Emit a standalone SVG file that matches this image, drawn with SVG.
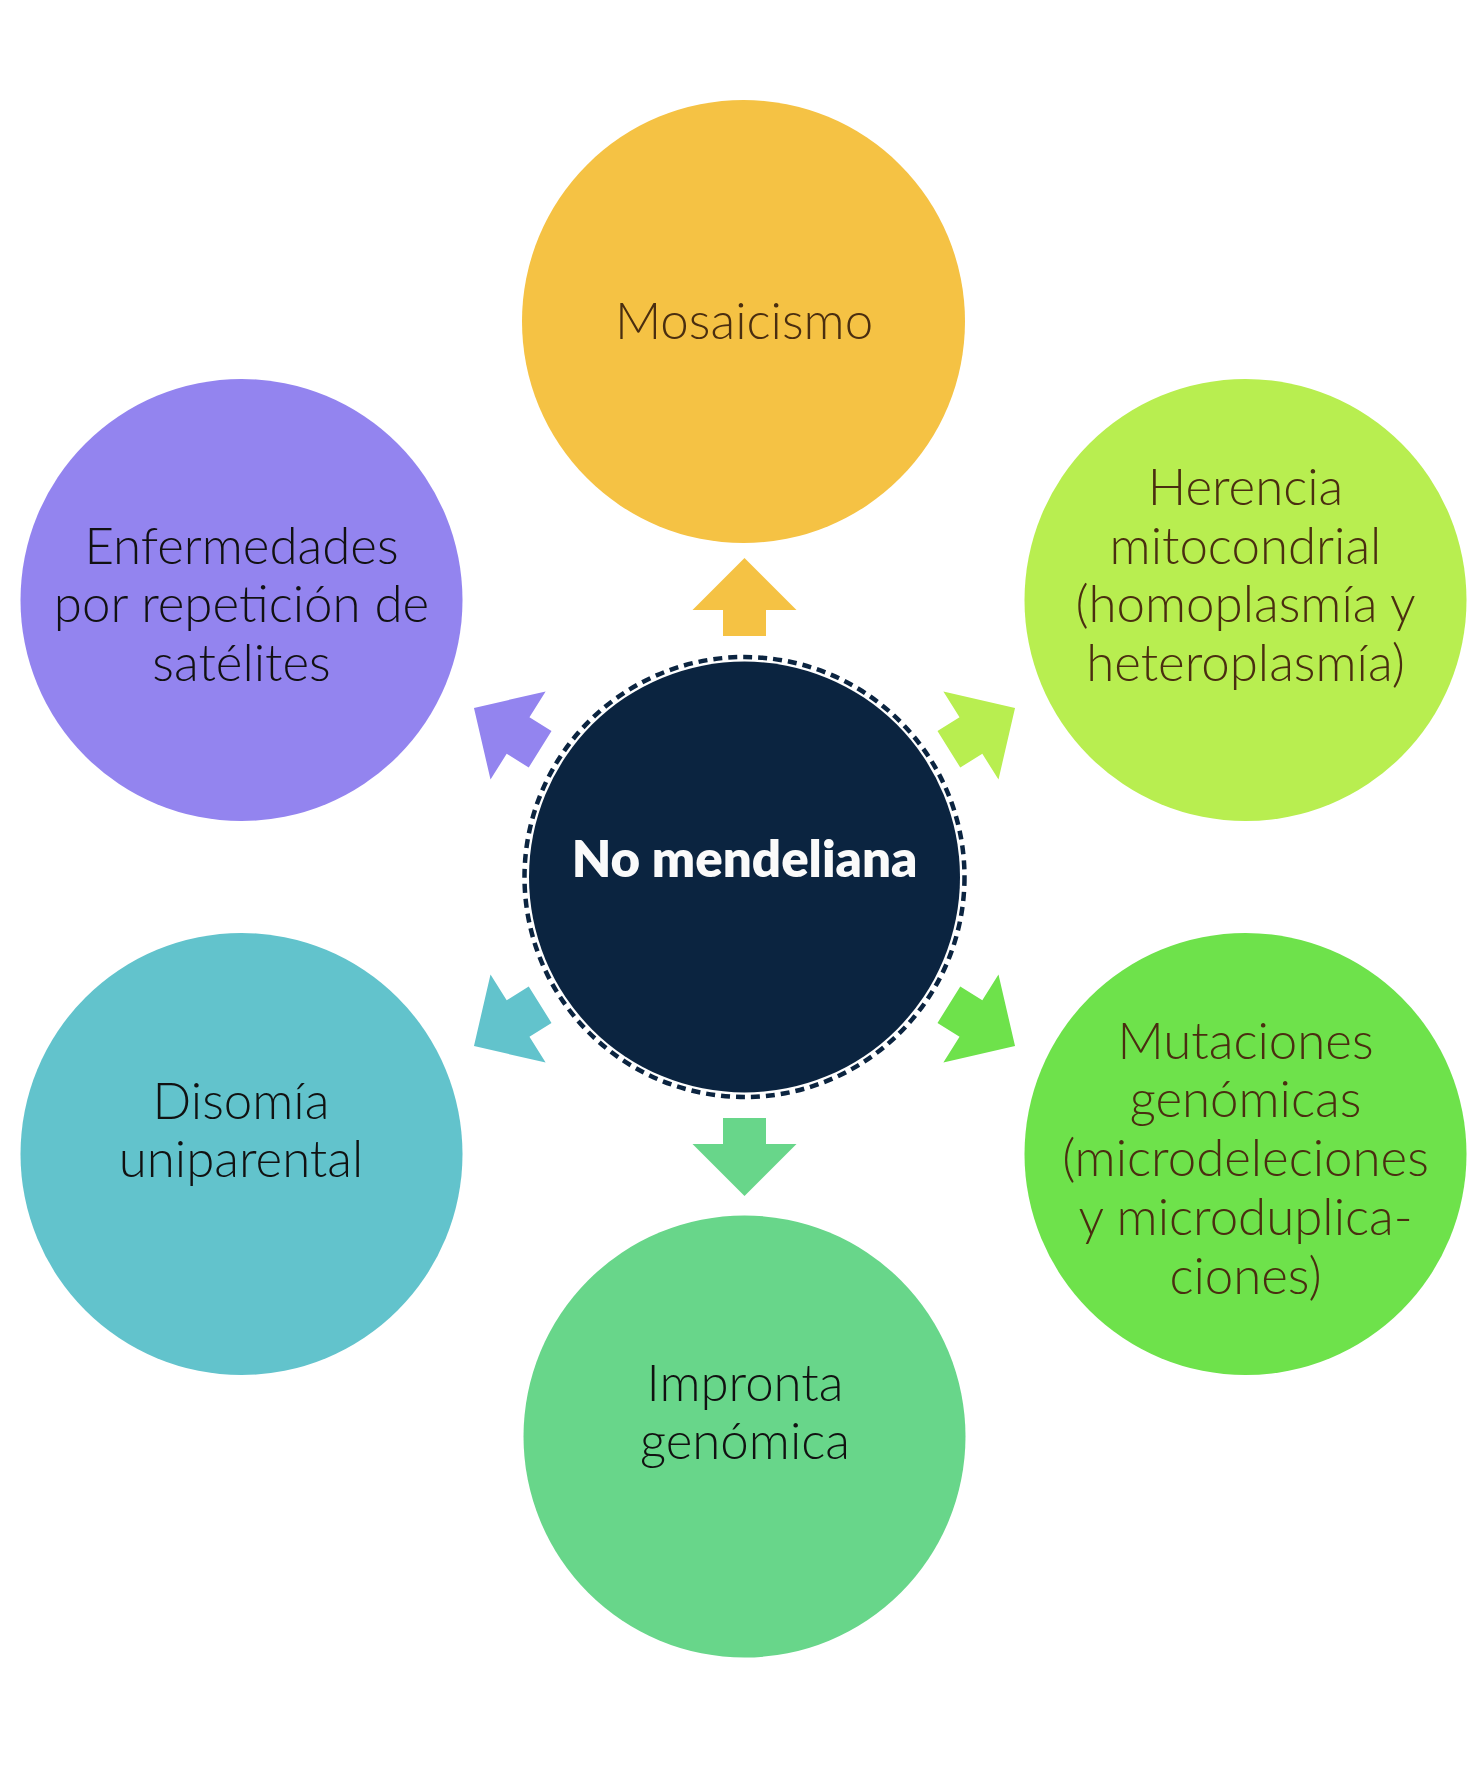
<svg xmlns="http://www.w3.org/2000/svg" width="1484" height="1784" viewBox="0 0 1484 1784">
<style>
.lbl{font-family:"Lato Light",Lato,"Liberation Sans",sans-serif;font-weight:300;font-size:51px;text-anchor:middle}
.brown{fill:#4a2e10}
.dark{fill:#111111}
.ctr{font-family:Lato,"Liberation Sans",sans-serif;font-weight:800;font-size:51px;text-anchor:middle;fill:#fafafa}
</style>
<defs>
<polygon id="arrow" points="0,-319 52,-267 21.5,-267 21.5,-241 -21.5,-241 -21.5,-267 -52,-267"/>
</defs>
<rect width="1484" height="1784" fill="#ffffff"/>
<g id="connectors">
<use href="#arrow" fill="#f5c244" transform="translate(744.5,877) rotate(0)"/>
<use href="#arrow" fill="#b8ee50" transform="translate(744.5,877) rotate(58)"/>
<use href="#arrow" fill="#6ee24b" transform="translate(744.5,877) rotate(122)"/>
<use href="#arrow" fill="#68d68a" transform="translate(744.5,877) rotate(180)"/>
<use href="#arrow" fill="#62c3cc" transform="translate(744.5,877) rotate(238)"/>
<use href="#arrow" fill="#9384ef" transform="translate(744.5,877) rotate(302)"/>
</g>
<g id="center">
<circle cx="744.5" cy="877" r="220" fill="none" stroke="#0b2440" stroke-width="4.5" stroke-dasharray="9 6"/>
<circle cx="744.5" cy="877" r="215.5" fill="#0b2440"/>
<text class="ctr" x="744.5" y="877">No mendeliana</text>
</g>
<g id="mosaicismo">
<circle cx="743.5" cy="321.5" r="221.5" fill="#f5c244"/>
<text class="lbl brown" x="744" y="339">Mosaicismo</text>
</g>
<g id="herencia">
<circle cx="1245.5" cy="600" r="221" fill="#b8ee50"/>
<text class="lbl brown" x="1245.5"><tspan x="1245.5" y="505">Herencia</tspan><tspan x="1245.5" y="563.5">mitocondrial</tspan><tspan x="1245.5" y="622">(homoplasmía y</tspan><tspan x="1245.5" y="681">heteroplasmía)</tspan></text>
</g>
<g id="mutaciones">
<circle cx="1245.5" cy="1154" r="221" fill="#6ee24b"/>
<text class="lbl brown" x="1245.5"><tspan x="1245.5" y="1058.5">Mutaciones</tspan><tspan x="1245.5" y="1117">genómicas</tspan><tspan x="1245.5" y="1175.5">(microdeleciones</tspan><tspan x="1245.5" y="1235">y microduplica-</tspan><tspan x="1245.5" y="1294">ciones)</tspan></text>
</g>
<g id="impronta">
<circle cx="744.5" cy="1436.5" r="221" fill="#68d68a"/>
<text class="lbl dark" x="745"><tspan x="745" y="1400.5">Impronta</tspan><tspan x="745" y="1458.5">genómica</tspan></text>
</g>
<g id="disomia">
<circle cx="241.5" cy="1154" r="221" fill="#62c3cc"/>
<text class="lbl dark" x="241"><tspan x="241" y="1118.5">Disomía</tspan><tspan x="241" y="1177">uniparental</tspan></text>
</g>
<g id="enfermedades">
<circle cx="241.5" cy="600" r="221" fill="#9384ef"/>
<text class="lbl dark" x="241.5"><tspan x="241.5" y="563.5">Enfermedades</tspan><tspan x="241.5" y="622">por repetición de</tspan><tspan x="241.5" y="681">satélites</tspan></text>
</g>
</svg>
